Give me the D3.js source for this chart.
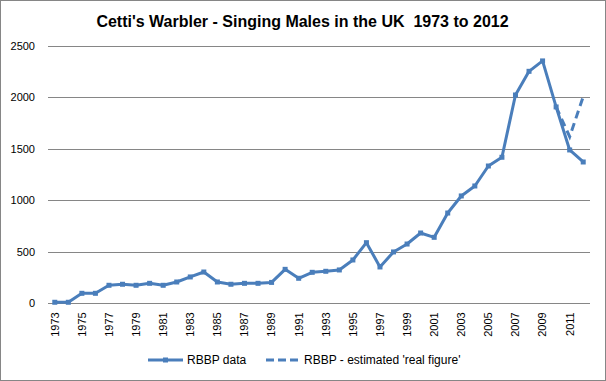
<!DOCTYPE html>
<html><head><meta charset="utf-8">
<script src="https://cdn.jsdelivr.net/npm/d3@7"></script>
<style>body{margin:0;background:#fff}svg{display:block}</style>
</head><body>
<svg id="c" width="606" height="381"></svg>
<script>
const title = "Cetti's Warbler - Singing Males in the UK  1973 to 2012";
const years = d3.range(1973, 2013);
const rbbpData = [10,10,97,97,175,185,175,194,175,207,256,304,207,185,194,194,203,330,243,301,
  311,324,421,589,353,499,576,683,641,877,1043,1140,1334,1419,2024,2254,2355,1908,1490,1373];
const estYears = [2010, 2011, 2012];
const estValues = [1908, 1619, 2008];
const yTicks = [0,500,1000,1500,2000,2500];
const seriesNames = ["RBBP data", "RBBP - estimated 'real figure'"];

const color = "#4A7EBB";
const svg = d3.select("#c");
svg.append("rect").attr("x",0.5).attr("y",0.5).attr("width",605).attr("height",380)
  .attr("fill","#fff").attr("stroke","#868686");

const m = {l:48, r:590, t:46, b:303.3};
const x = d3.scaleBand().domain(years).range([m.l, m.r]);
const y = d3.scaleLinear().domain([0,2500]).range([m.b, m.t]);
const cx = d => x(d) + x.bandwidth()/2;

svg.append("g").selectAll("line").data(yTicks).join("line")
  .attr("x1", m.l).attr("x2", m.r)
  .attr("y1", d => Math.round(y(d))+0.5).attr("y2", d => Math.round(y(d))+0.5)
  .attr("stroke","#868686").attr("stroke-width",1);

const yAxis = d3.axisLeft(y).tickValues(yTicks).tickFormat(d3.format("d")).tickSize(0).tickPadding(0);
const ga = svg.append("g").attr("transform","translate(35,0)").call(yAxis);
ga.select(".domain").remove();
ga.selectAll("text").attr("font-family","Liberation Sans, Arial, sans-serif").attr("font-size","11px").attr("fill","#000");

const xAxis = d3.axisBottom(x).tickValues(years.filter((d,i)=>i%2===0)).tickSize(0).tickPadding(0);
const gx = svg.append("g").attr("transform",`translate(0,${m.b})`).call(xAxis);
gx.select(".domain").remove();
gx.selectAll("text")
  .attr("font-family","Liberation Sans, Arial, sans-serif").attr("font-size","11px").attr("fill","#000")
  .attr("transform","rotate(-90)").attr("text-anchor","end")
  .attr("x",-9).attr("y",0).attr("dy","0.35em");

const line = d3.line().x((d,i)=>cx(years[i])).y(d=>y(d));
svg.append("path").datum(rbbpData).attr("d", line)
  .attr("fill","none").attr("stroke",color).attr("stroke-width",3).attr("stroke-linejoin","round");
svg.append("g").selectAll("rect").data(rbbpData).join("rect")
  .attr("x",(d,i)=>cx(years[i])-2.5).attr("y",d=>y(d)-2.5).attr("width",5).attr("height",5).attr("fill",color);

const line2 = d3.line().x((d,i)=>cx(estYears[i])).y(d=>y(d));
svg.append("path").datum(estValues).attr("d", line2)
  .attr("fill","none").attr("stroke",color).attr("stroke-width",3).attr("stroke-dasharray","8,5");

svg.append("text").attr("x",302.5).attr("y",27).attr("text-anchor","middle")
  .attr("font-family","Liberation Sans, Arial, sans-serif").attr("font-weight","bold").attr("font-size","16px")
  .style("white-space","pre").attr("xml:space","preserve")
  .text(title);

const lg = svg.append("g").attr("font-family","Liberation Sans, Arial, sans-serif").attr("font-size","12px");
lg.append("line").attr("x1",148).attr("x2",183).attr("y1",360).attr("y2",360).attr("stroke",color).attr("stroke-width",3);
lg.append("rect").attr("x",163).attr("y",357.5).attr("width",5).attr("height",5).attr("fill",color);
lg.append("text").attr("x",187).attr("y",364).text(seriesNames[0]);
lg.append("line").attr("x1",266).attr("x2",298).attr("y1",360).attr("y2",360).attr("stroke",color).attr("stroke-width",3).attr("stroke-dasharray","8,4");
lg.append("text").attr("x",304).attr("y",364).text(seriesNames[1]);
</script>
</body></html>
